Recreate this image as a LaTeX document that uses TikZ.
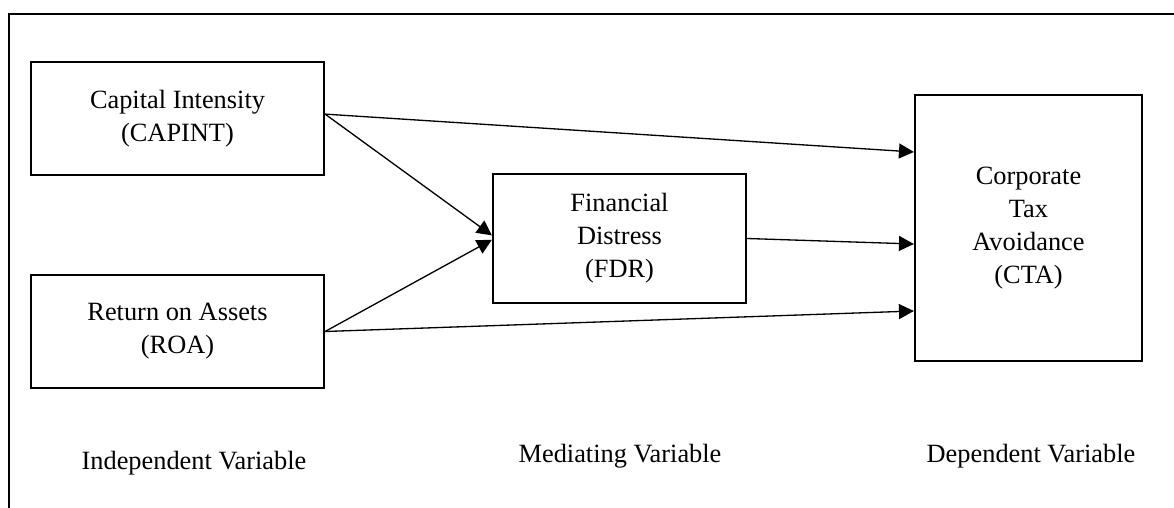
\documentclass[tikz,border=0pt]{standalone}
\usepackage{fontspec}
\setmainfont{Liberation Serif}
\usepackage{tikz}
\usetikzlibrary{arrows.meta}
\newcommand\nodecap{Capital Intensity\\(CAPINT)}
\newcommand\noderoa{Return on Assets\\(ROA)}
\newcommand\nodefdr{Financial\\Distress\\(FDR)}
\newcommand\nodecta{Corporate\\Tax\\Avoidance\\(CTA)}
\tikzstyle{varbox} = [rectangle, draw, line width=1pt, align=center, font=\fontsize{12}{15}\selectfont]
\tikzstyle{iv} = [varbox, minimum width=4.688cm, minimum height=1.808cm]
\tikzstyle{vartype} = [anchor=base, font=\fontsize{12}{15}\selectfont]
\tikzset{>={Triangle[length=6.8pt,width=6.8pt]}, every picture/.style={line width=0.6pt}}
\begin{document}
\begin{tikzpicture}
\useasboundingbox (0,0) rectangle (18.784,8.128);
\draw[line width=1pt] (0.144,0) -- (0.144,7.904) -- (18.784,7.904);
\node[iv] (cap) at (2.84, 6.232) {\nodecap};
\node[iv] (roa) at (2.84, 2.824) {\noderoa};
\node[varbox, minimum width=4.048cm, minimum height=2.064cm] (fdr) at (9.912, 4.312) {\nodefdr};
\node[varbox, minimum width=3.632cm, minimum height=4.256cm] (cta) at (16.456, 4.48) {\nodecta};
\node[vartype] (ivlabel) at (3.104, 0.608) {Independent Variable};
\node[vartype] (mvlabel) at (9.92, 0.72) {Mediating Variable};
\node[vartype] (dvlabel) at (16.496, 0.72) {Dependent Variable};
\draw [->] ([yshift=0.07cm]cap.east) -- ([yshift=1.216cm]cta.west);
\draw [->] ([yshift=0.07cm]cap.east) -- ([yshift=0.05cm]fdr.west);
\draw [->] (roa.east) -- ([yshift=-0.02cm]fdr.west);
\draw [->] (roa.east) -- ([yshift=-1.328cm]cta.west);
\draw [->] (fdr.east) -- ([yshift=-0.256cm]cta.west);
\end{tikzpicture}
\end{document}
